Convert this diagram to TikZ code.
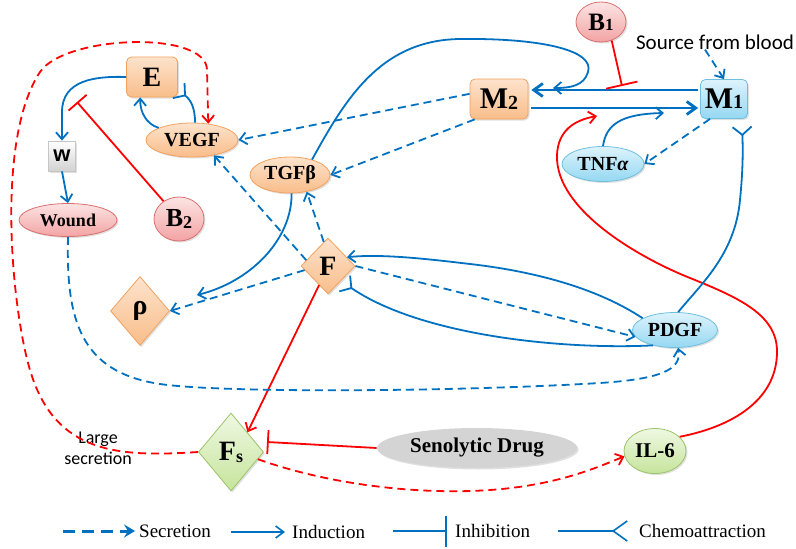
\documentclass[tikz,border=0pt]{standalone}
\usepackage{fontspec}
\setmainfont{Liberation Serif}
\newfontfamily\calibf{Carlito}
\newfontfamily\arialf{Liberation Sans}
\usetikzlibrary{arrows.meta,shapes.geometric,shadows}
\definecolor{lblue}{HTML}{0070C0}
\definecolor{lred}{HTML}{FF0000}
\definecolor{orT}{HTML}{FDE3CC}
\definecolor{orB}{HTML}{F9BD8A}
\definecolor{orD}{HTML}{F2A25E}
\definecolor{cyT}{HTML}{DDF3FC}
\definecolor{cyB}{HTML}{95D8F2}
\definecolor{cyD}{HTML}{6FC0DE}
\definecolor{pkT}{HTML}{FCE4E4}
\definecolor{pkB}{HTML}{F3A3A3}
\definecolor{pkD}{HTML}{D9706E}
\definecolor{gnT}{HTML}{EFF8E2}
\definecolor{gnB}{HTML}{C6E49C}
\definecolor{gnD}{HTML}{9DC46A}
\definecolor{gyF}{HTML}{D4D4D4}
\newcommand\myfs[1]{\fontsize{#1}{#1}\selectfont}
\begin{document}
\begin{tikzpicture}[x=1pt,y=-1pt,
 shad/.style={drop shadow={opacity=0.25,shadow xshift=1.5pt,shadow yshift=-1.5pt}},
 nd/.style={inner sep=0pt, line width=0.8pt, shad},
 orbox/.style={nd, rectangle, rounded corners=5pt, draw=orD, top color=orT, bottom color=orB},
 orell/.style={nd, ellipse, draw=orD, top color=orT, bottom color=orB},
 ordia/.style={nd, diamond, draw=orD, top color=orT, bottom color=orB},
 cybox/.style={nd, rectangle, rounded corners=5pt, draw=cyD, top color=cyT, bottom color=cyB},
 cyell/.style={nd, ellipse, draw=cyD, top color=cyT, bottom color=cyB},
 pkell/.style={nd, ellipse, draw=pkD, top color=pkT, bottom color=pkB},
 gnell/.style={nd, ellipse, draw=gnD, top color=gnT, bottom color=gnB},
 gndia/.style={nd, diamond, draw=gnD, top color=gnT, bottom color=gnB},
 gyell/.style={nd, ellipse, fill=gyF, draw=none},
 wbox/.style={nd, rectangle, draw=gray!45, top color=white, bottom color=gray!35},
 plain/.style={inner sep=0pt},
 legtext/.style={inner sep=0pt, anchor=west, font=\myfs{19}},
 ind/.style={draw=lblue, line width=1.8pt, -{Straight Barb[length=7pt,width=12pt]}},
 secr/.style={ind, dash pattern=on 8pt off 5pt},
 redind/.style={draw=lred, line width=1.8pt, -{Straight Barb[length=7pt,width=12pt]}},
 redsec/.style={redind, dash pattern=on 8pt off 5pt},
 redinh/.style={draw=lred, line width=1.8pt, -{Bar[width=24pt]}},
 chemo/.style={draw=lblue, line width=1.8pt, -{Straight Barb[reversed,length=8pt,width=19pt]}},
 thick/.style={line width=2.8pt, -{Straight Barb[length=9pt,width=13pt]}}
]
\useasboundingbox (0,0) rectangle (796,549);

% nodes
\node[orbox, minimum width=51pt, minimum height=40pt, font=\bfseries\myfs{28}] (E) at (152,77) {E};
\node[orell, minimum width=92pt, minimum height=34pt, font=\bfseries\myfs{20}] (VEGF) at (192,140) {VEGF};
\node[wbox, minimum width=27pt, minimum height=30pt, font=\arialf\bfseries\myfs{22}] (W) at (62,156) {w};
\node[pkell, minimum width=98pt, minimum height=33pt, font=\bfseries\myfs{18}] (Wound) at (68,220) {Wound};
\node[pkell, minimum width=50pt, minimum height=44pt, font=\bfseries\myfs{26}] (B2) at (179,219) {B\raisebox{-2pt}{\myfs{18}2}};
\node[orell, minimum width=80pt, minimum height=36pt, font=\bfseries\myfs{20}] (TGF) at (290,175) {TGFβ};
\node[ordia, minimum width=54pt, minimum height=56pt, font=\bfseries\myfs{28}] (F) at (328,266) {F};
\node[orbox, minimum width=58pt, minimum height=40pt, font=\bfseries\myfs{30}] (M2) at (499,99) {M\raisebox{-1pt}{\myfs{20}2}};
\node[pkell, minimum width=50pt, minimum height=40pt, font=\bfseries\myfs{25}] (B1) at (601,22) {B\myfs{17}1};
\node[plain, font=\calibf\myfs{21}] (Src) at (715,42) {Source from blood};
\node[cybox, minimum width=47pt, minimum height=39pt, font=\bfseries\myfs{30}] (M1) at (724,99) {M\myfs{20}1};
\node[cyell, minimum width=82pt, minimum height=35pt, font=\bfseries\myfs{20}] (TNF) at (603,164) {TNF{\itshape α}};
\node[ordia, minimum width=59pt, minimum height=69pt, font=\bfseries\myfs{28}] (Rho) at (140,311) {ρ};
\node[cyell, minimum width=85pt, minimum height=35pt, font=\bfseries\myfs{20}] (PDGF) at (675,330) {PDGF};
\node[gndia, minimum width=65pt, minimum height=78pt, font=\bfseries\myfs{28}] (Fs) at (231,452) {F\raisebox{-2pt}{\myfs{18}s}};
\node[gyell, minimum width=200pt, minimum height=40pt, font=\bfseries\myfs{21}] (Sen) at (477,448) {Senolytic Drug};
\node[gnell, minimum width=62pt, minimum height=45pt, font=\bfseries\myfs{21}] (IL6) at (655,451) {IL-6};
\node[plain, align=center, font=\calibf\fontsize{18}{21}\selectfont] (LS) at (98,448) {Large\\secretion};

% free ends
\coordinate (b2T) at (77,102);
\coordinate (chE) at (178,90);
\coordinate (m2A) at (553,88);
\coordinate (tnfA) at (664,113);
\coordinate (ilA) at (597,116);
\coordinate (chM1) at (742,126);
\coordinate (chF) at (344,283);
\coordinate (rhoT) at (197,295);
\coordinate (senT) at (267,442);
\coordinate (b1T) at (622,86);

% connectors
\draw[ind] (E.west) .. controls (95,76) and (62,80) .. (62,112) -- (W.north);
\draw[ind] (W.south) -- (Wound.north);
\draw[redinh] (B2) -- (b2T);
\draw[ind] (VEGF.160) .. controls (146,124) and (140,112) .. (E.240);
\draw[chemo] (VEGF.80) .. controls (195,108) and (191,100) .. (chE);
\draw[redsec] (Fs.west) .. controls (120,457) and (55,455) .. (30,370)
   .. controls (12,310) and (-5,140) .. (40,72)
   .. controls (65,35) and (207,30) .. (207,70) -- (VEGF.45);
\draw[secr] (M2.170) -- (VEGF.east);
\draw[secr] (M2.220) -- (TGF.east);
\draw[secr] (F.165) -- (VEGF.-35);
\draw[secr] (F.100) -- (TGF.-45);
\draw[ind] (TGF.35) .. controls (345,100) and (380,40) .. (460,39)
   .. controls (540,38) and (595,50) .. (588,72)
   .. controls (584,86) and (570,88) .. (m2A);
\draw[ind, thick, shorten <=2pt, shorten >=3pt] ([yshift=9pt]M1.west) -- ([yshift=9pt]M2.east);
\draw[ind, thick, shorten <=3pt, shorten >=2pt] ([yshift=-9pt]M2.east) -- ([yshift=-9pt]M1.west);
\draw[redinh, -{Bar[width=32pt]}] (B1.-60) -- (b1T);
\draw[secr] ([xshift=-10pt]Src.south) -- (M1.north);
\draw[secr] (M1.235) -- (TNF.east);
\draw[ind] (TNF.north) .. controls (606,125) and (620,114) .. (tnfA);
\draw[redind] (IL6.30) .. controls (740,425) and (778,395) .. (777,350)
   .. controls (776,315) and (740,298) .. (690,278)
   .. controls (640,258) and (555,210) .. (557,155)
   .. controls (558,130) and (575,120) .. (ilA);
\draw[chemo] (PDGF.80) .. controls (700,285) and (735,255) .. (740,200)
   .. controls (743,170) and (743,150) .. (chM1);
\draw[ind] (PDGF.160) .. controls (600,290) and (540,272) .. (470,264)
   .. controls (420,258) and (380,254) .. (F.25);
\draw[secr] (F.east) -- (PDGF.190);
\draw[chemo] (PDGF.215) .. controls (560,350) and (420,335) .. (chF);
\draw[ind] (TGF.-85) .. controls (292,240) and (250,282) .. (rhoT);
\draw[secr] (F.190) -- (Rho.east);
\draw[redind] (F.245) -- (Fs.north east);
\draw[redinh] (Sen.west) -- (senT);
\draw[redsec] (Fs.-15) .. controls (330,485) and (420,495) .. (490,490)
   .. controls (560,485) and (600,466) .. (IL6.190);
\draw[secr] (Wound.south) .. controls (66,320) and (80,372) .. (160,384)
   .. controls (220,393) and (450,392) .. (600,383)
   .. controls (660,379) and (682,370) .. (PDGF.-80);

% legend
\coordinate (ls1) at (63,531); \coordinate (ls2) at (135,531);
\coordinate (li1) at (231,532); \coordinate (li2) at (285,532);
\coordinate (lh1) at (393,531); \coordinate (lh2) at (447,531);
\coordinate (lc1) at (558,531); \coordinate (lc2) at (628,531);
\draw[draw=lblue, line width=3pt, dash pattern=on 12pt off 7pt, -{Stealth[length=11pt,width=13pt,inset=4pt]}] (ls1) -- (ls2);
\draw[draw=lblue, line width=1.6pt, -{Straight Barb[length=8pt,width=12pt]}] (li1) -- (li2);
\draw[draw=lblue, line width=1.6pt, -{Bar[width=31pt]}] (lh1) -- (lh2);
\draw[draw=lblue, line width=1.6pt, -{Straight Barb[reversed,length=14pt,width=20pt]}] (lc1) -- (lc2);
\node[legtext] (LgS) at (139,531) {Secretion};
\node[legtext] (LgI) at (292,532) {Induction};
\node[legtext] (LgH) at (455,531) {Inhibition};
\node[legtext] (LgC) at (639,531) {Chemoattraction};
\end{tikzpicture}
\end{document}
